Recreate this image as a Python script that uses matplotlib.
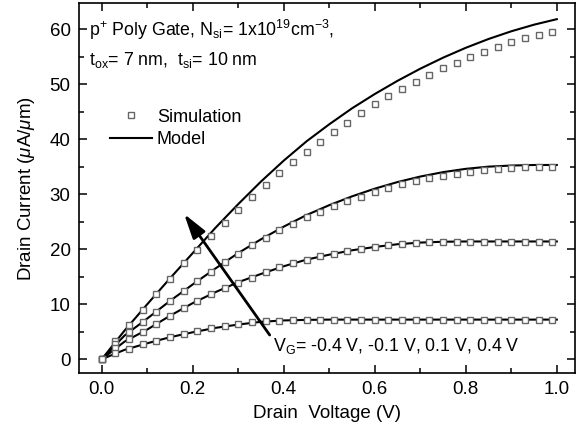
import matplotlib
matplotlib.use("Agg")
from matplotlib import pyplot as plt
from matplotlib.ticker import MultipleLocator

plt.rcParams['font.family'] = ['Liberation Sans', 'DejaVu Sans']
plt.rcParams['mathtext.fontset'] = 'custom'
plt.rcParams['mathtext.rm'] = 'Liberation Sans'
plt.rcParams['mathtext.it'] = 'Liberation Sans:italic'

# Simulacao (quadrados), Vd = 0 ... 0.99 V em passos de 0.03
vd_sim = [round(0.03 * i, 2) for i in range(34)]
sim_04 = [0, 3.3, 6.2, 9.0, 11.9, 14.6, 17.4, 19.8, 22.4, 24.8, 27.2, 29.5, 31.6, 33.8,
          35.8, 37.7, 39.5, 41.3, 43.0, 44.7, 46.3, 47.8, 49.1, 50.4, 51.6, 52.9, 53.9,
          55.0, 55.9, 56.8, 57.6, 58.3, 58.9, 59.5]
sim_01 = [0, 2.8, 5.0, 6.7, 8.6, 10.5, 12.4, 14.2, 15.9, 17.6, 19.2, 20.7, 22.0, 23.5,
          24.5, 25.8, 26.8, 27.8, 28.7, 29.5, 30.4, 31.2, 31.8, 32.4, 32.85, 33.3, 33.75,
          34.05, 34.3, 34.5, 34.7, 34.85, 35.0, 35.0]
sim_m01 = [0, 2.0, 3.6, 5.0, 6.4, 7.9, 9.3, 10.6, 11.8, 12.9, 13.9, 14.85, 15.8, 16.7,
           17.4, 18.1, 18.7, 19.2, 19.7, 20.1, 20.4, 20.7, 20.95, 21.1, 21.25, 21.3, 21.3,
           21.3, 21.3, 21.3, 21.3, 21.3, 21.3, 21.3]
sim_m04 = [0, 1.1, 1.9, 2.7, 3.3, 4.0, 4.6, 5.2, 5.7, 6.05, 6.4, 6.7, 6.9, 7.0, 7.1, 7.15,
           7.2, 7.2, 7.2, 7.2, 7.2, 7.2, 7.2, 7.2, 7.2, 7.2, 7.2, 7.2, 7.2, 7.2, 7.2, 7.2,
           7.2, 7.2]

# Modelo (linhas), Vd = 0 ... 1.0 V em passos de 0.05
vd_mod = [round(0.05 * i, 2) for i in range(21)]
mod_04 = [0, 5.2, 10.0, 14.7, 19.3, 23.9, 28.2, 32.3, 36.1, 39.6, 42.7, 45.6, 48.2, 50.6,
          52.8, 54.8, 56.6, 58.2, 59.6, 60.8, 61.8]
mod_01 = [0, 4.3, 7.4, 10.6, 13.6, 16.5, 19.3, 21.8, 24.1, 26.2, 28.0, 29.6, 31.0, 32.2,
          33.2, 34.0, 34.6, 35.0, 35.2, 35.3, 35.3]
mod_m01 = [0, 3.2, 5.4, 7.9, 10.2, 12.2, 14.0, 15.5, 16.9, 18.1, 19.0, 19.8, 20.4, 20.9,
           21.2, 21.35, 21.4, 21.4, 21.4, 21.4, 21.4]
mod_m04 = [0, 1.7, 2.9, 4.0, 4.9, 5.7, 6.3, 6.8, 7.05, 7.15, 7.2, 7.2, 7.2, 7.2, 7.2, 7.2,
           7.2, 7.2, 7.2, 7.2, 7.2]

fig = plt.figure(figsize=(5.87, 4.34), dpi=100)
ax = fig.add_axes([0.1346, 0.1406, 0.845, 0.852])

sq = dict(marker='s', linestyle='none', markersize=4.8, markerfacecolor='white',
          markeredgecolor='#666666', markeredgewidth=1.0, zorder=3)
for s in [sim_04, sim_01, sim_m01, sim_m04]:
    ax.plot(vd_sim, s, **sq)
for m in [mod_04, mod_01, mod_m01, mod_m04]:
    ax.plot(vd_mod, m, color='black', linewidth=1.5, zorder=2)

# legenda
ax.plot([], [], label='Simulation', **sq)
ax.plot([], [], color='black', linewidth=1.5, label='Model')
h, l = ax.get_legend_handles_labels()
ax.legend(h[-2:], l[-2:], loc='upper left', bbox_to_anchor=(0.062, 0.715), frameon=False,
          fontsize=13, handlelength=2.35, handletextpad=0.25, labelspacing=0.3,
          borderpad=0.0, borderaxespad=0.0)

ax.annotate('', xy=(0.181, 26.4), xytext=(0.369, 4.4),
            arrowprops=dict(arrowstyle='-|>,head_width=0.22,head_length=0.75',
                            color='black', lw=2, mutation_scale=20, shrinkA=0, shrinkB=0))
ax.text(0.376, 2.4, r'V$_\mathrm{G}$= -0.4 V, -0.1 V, 0.1 V, 0.4 V', fontsize=12.8,
        va='center', ha='left')
ax.text(-0.027, 59.9, r'p$^\mathrm{+}$ Poly Gate, N$_\mathrm{si}$= 1x10$^\mathrm{19}$cm$^\mathrm{-3}$,',
        fontsize=12.8, va='center', ha='left')
ax.text(-0.027, 54.3, r't$_\mathrm{ox}$= 7 nm,  t$_\mathrm{si}$= 10 nm',
        fontsize=12.8, va='center', ha='left')

ax.set_xlim(-0.05, 1.04)
ax.set_ylim(-2.5, 64.7)
ax.xaxis.set_major_locator(MultipleLocator(0.2))
ax.xaxis.set_minor_locator(MultipleLocator(0.1))
ax.yaxis.set_major_locator(MultipleLocator(10))
ax.yaxis.set_minor_locator(MultipleLocator(5))
ax.tick_params(which='both', direction='in', top=True, right=True, labelsize=13.5, width=1.1)
ax.tick_params(which='major', length=6, pad=6)
ax.tick_params(which='minor', length=3.5)
ax.xaxis.set_major_formatter(plt.FuncFormatter(lambda v, p: f'{v:.1f}'))
for sp in ax.spines.values():
    sp.set_linewidth(1.2)

ax.set_xlabel('Drain  Voltage (V)', fontsize=13.5, labelpad=5)
ax.set_ylabel(r'Drain Current ($\mu$A/$\mu$m)', fontsize=13.5, labelpad=9)

fig.savefig('out.png', dpi=100)
